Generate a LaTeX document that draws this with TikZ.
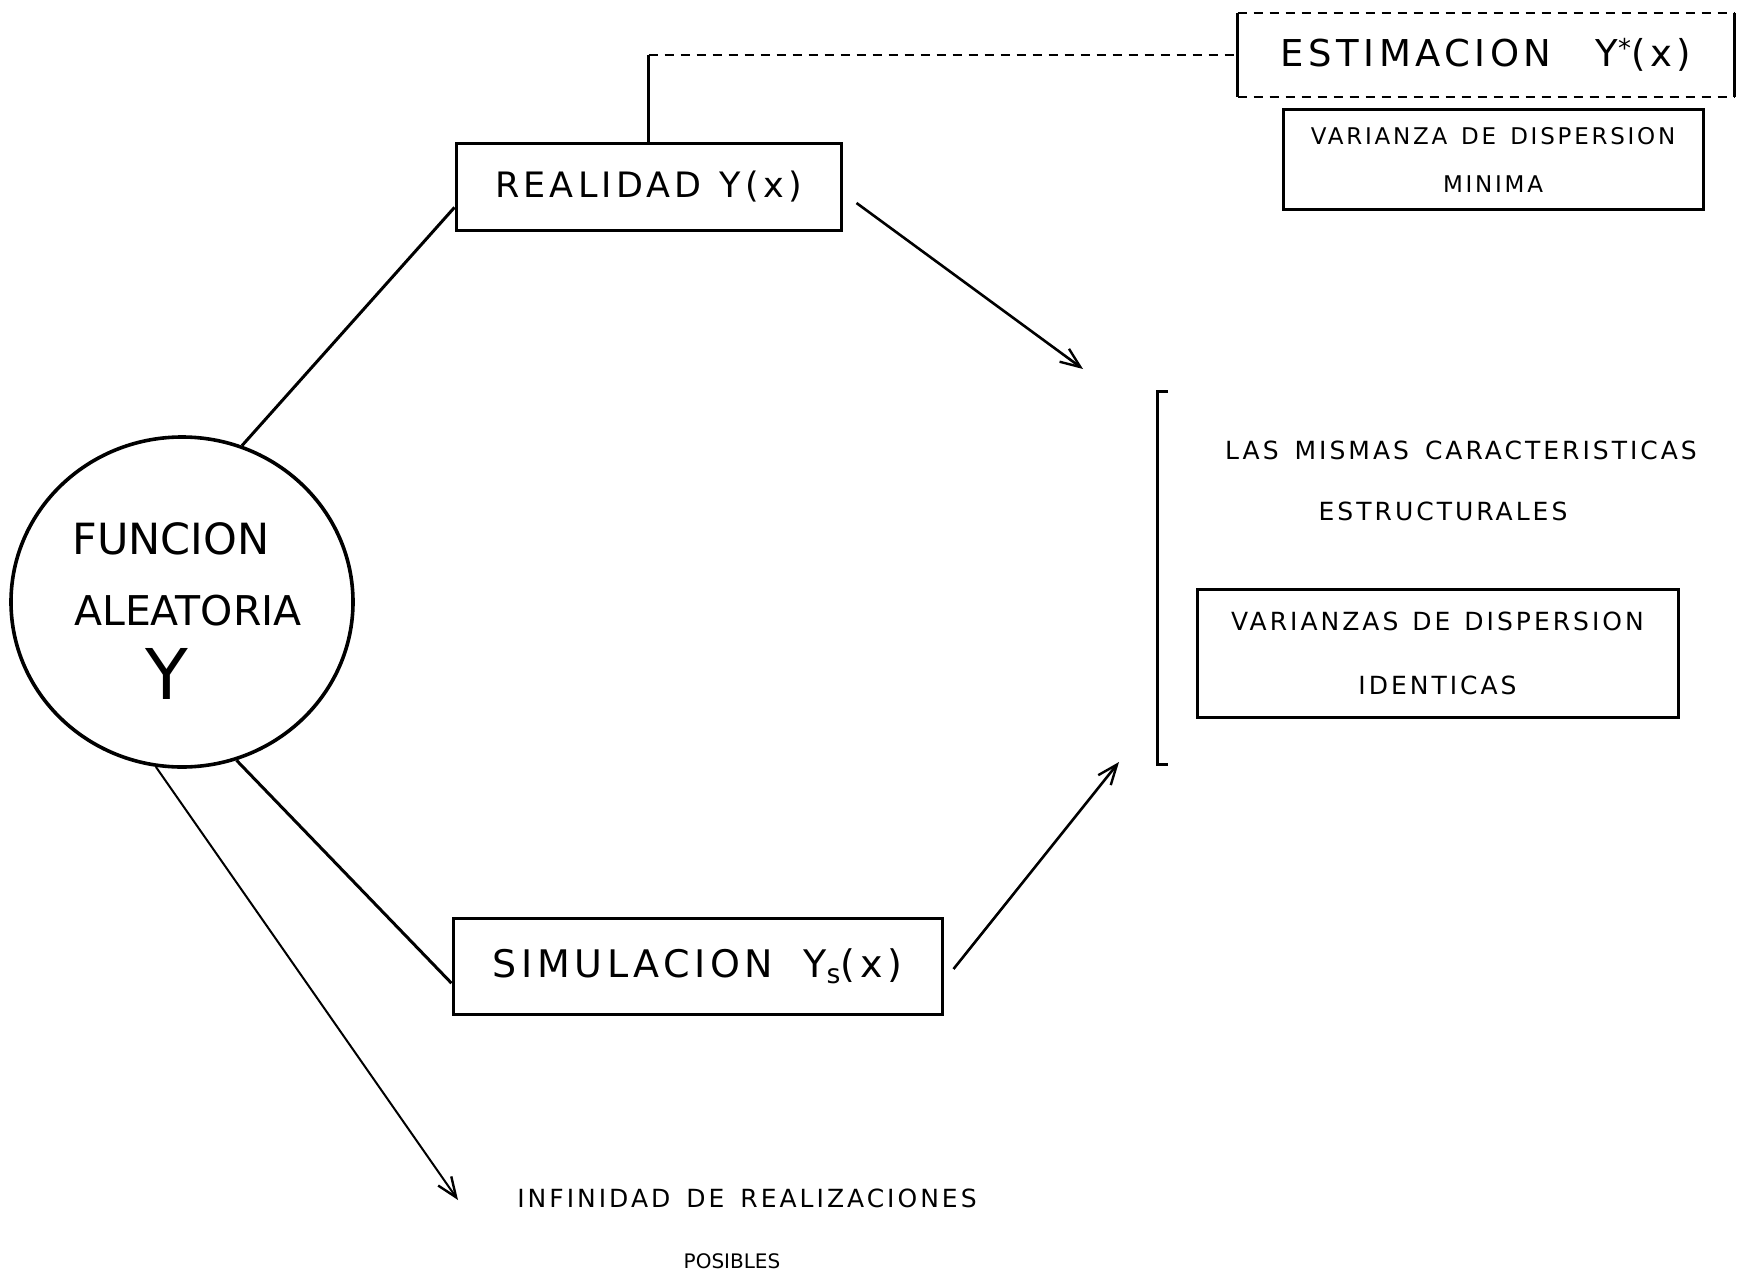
\documentclass[tikz,border=0pt]{standalone}
\usepackage{fontspec}
\newfontfamily\lett[LetterSpace=12]{DejaVu Sans}
\newfontfamily\plain{DejaVu Sans}
\usetikzlibrary{shapes.geometric,arrows.meta,calc}
\newcommand\fsz[2]{\fontsize{#1}{#2}\selectfont}

\begin{document}
\begin{tikzpicture}[x=1pt,y=-1pt,
  line width=3pt,
  box/.style={draw, rectangle, inner sep=0pt, font=\lett, align=center},
  txt/.style={inner sep=0pt, font=\lett, align=center},
  link/.style={line width=3pt},
  tip/.style={-{Straight Barb[length=20pt,width=16pt,line width=2.4pt]}},
  gap/.style={dash pattern=on 9pt off 7pt},
]
\useasboundingbox (0,0) rectangle (1742,1276);

% random function
\node[ellipse, draw, line width=3.6pt, minimum width=342, minimum height=330, inner sep=0pt] (fa) at (182,602) {};
\node[txt, font=\plain\fsz{43}{50}] (fa1) at (171,539) {FUNCION};
\node[txt, font=\plain\fsz{41}{50}] (fa2) at (188,611) {ALEATORIA};
\node[txt, font=\plain\fsz{70}{80}] (fa3) at (167,674) {Y};

% reality and simulation
\node[box, minimum width=385, minimum height=86, font=\lett\fsz{35}{40}] (real) at (648.5,187) {REALIDAD\hspace{18pt}Y(x)};
\node[box, minimum width=489, minimum height=96, font=\lett\fsz{38}{44}] (sim) at (697.5,966) {SIMULACION\hspace{30pt}Y\textsubscript{s}(x)};

% estimation branch
\node[inner sep=0pt, minimum width=494, minimum height=81, font=\lett\fsz{37}{40}] (est) at (1486,55) {ESTIMACION\hspace{44pt}Y\textsuperscript{*}(x)};
\draw (est.north west) -- (est.south west);
\draw (est.north east) -- (est.south east);
\draw[gap, line width=2pt] (est.north west) -- (est.north east);
\draw[gap, line width=2pt] (est.south west) -- (est.south east);
\node[box, minimum width=420, minimum height=100, font=\lett\fsz{23}{48}] (vmin) at (1493,160) {VARIANZA\hspace{14pt}DE\hspace{14pt}DISPERSION\\MINIMA};

% common properties
\node[txt, font=\lett\fsz{25}{30}] (car1) at (1461,450) {LAS\hspace{16pt}MISMAS\hspace{16pt}CARACTERISTICAS};
\node[txt, font=\lett\fsz{25}{30}] (car2) at (1443,511) {ESTRUCTURALES};
\node[box, minimum width=481, minimum height=128, font=\lett\fsz{25}{64}] (vid) at (1437.5,653) {VARIANZAS\hspace{14pt}DE\hspace{14pt}DISPERSION\\IDENTICAS};
\draw (1168,391) -- (1157,391) -- (1157,764) -- (1168,764);

% possible realizations
\node[txt, font=\lett\fsz{25}{30}] (inf1) at (747,1198) {INFINIDAD\hspace{16pt}DE\hspace{16pt}REALIZACIONES};
\node[txt, font=\plain\fsz{20}{24}] (inf2) at (732,1261) {POSIBLES};

% free arrow ends
\coordinate (a1) at (1083,369);
\coordinate (a2) at (1119,762);
\coordinate (a3) at (458,1200);

% connectors
\draw[link] (fa.69) -- (real.186);
\draw[link] (fa.-71) -- (sim.184);
\draw[link, line width=2.6pt, tip] ($(real.east)+(14,16)$) -- (a1);
\draw[link, line width=2.6pt, tip] ($(sim.east)+(10,3)$) -- (a2);
\draw[line width=2pt, tip] (fa.-99) -- (a3);
\draw (real.north) -- (real.north |- est.west);
\draw[gap, line width=2pt] (real.north |- est.west) -- (est.west);
\end{tikzpicture}
\end{document}
